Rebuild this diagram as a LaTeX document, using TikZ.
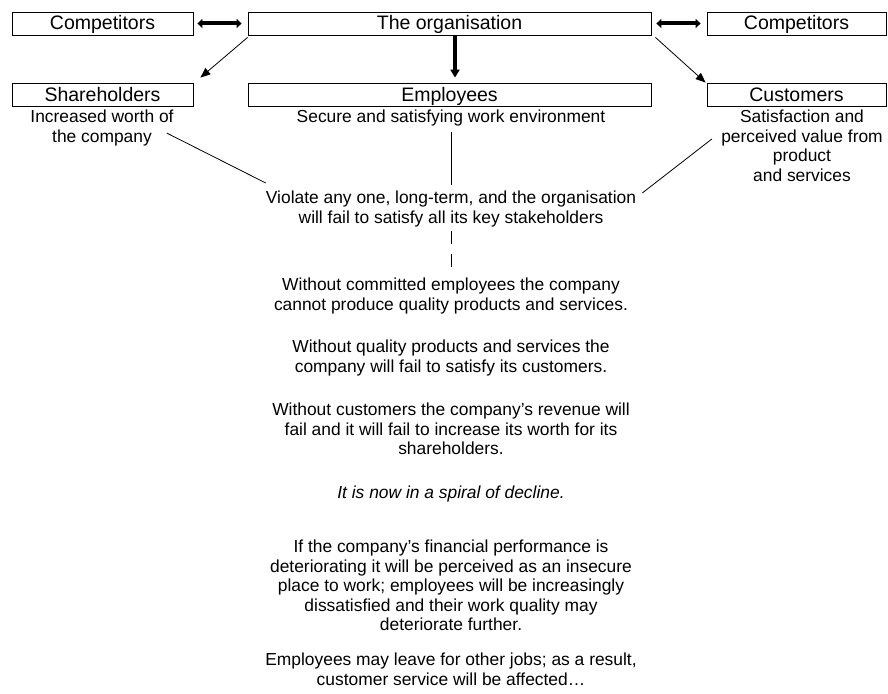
\documentclass[tikz,border=0pt]{standalone}
\usepackage{fontspec}
\setmainfont{Liberation Sans}
\usetikzlibrary{arrows.meta,calc}

\begin{document}
\begin{tikzpicture}[x=1pt,y=-1pt,
  box/.style={draw,line width=0.8pt,inner sep=0pt,minimum height=23pt,
    text height=18pt,text depth=5pt,font=\fontsize{19.5}{22}\selectfont},
  txt/.style={align=center,inner sep=0pt,anchor=north,
    font=\fontsize{17.4}{19.5}\selectfont},
  thinarr/.style={line width=0.8pt,-{Triangle[length=10pt,width=8pt]}},
  thickarr/.style={line width=4.2pt,-{Triangle[length=8pt,width=9pt]}},
  dblarr/.style={arrows={Triangle[length=5pt,width=9pt]-Triangle[length=5pt,width=9pt]},
    line width=4pt}]
\useasboundingbox (0,0) rectangle (888,693);

% stakeholder boxes
\node[box,minimum width=181pt] (compL) at (102.5,23.5) {Competitors};
\node[box,minimum width=403pt] (org) at (449.5,23.5) {The organisation};
\node[box,minimum width=179pt] (compR) at (796.5,23.5) {Competitors};
\node[box,minimum width=181pt] (share) at (102.5,94.5) {Shareholders};
\node[box,minimum width=403pt] (emp) at (449.5,94.5) {Employees};
\node[box,minimum width=179pt] (cust) at (796.5,94.5) {Customers};

% what each one wants
\node[txt] (shtxt) at (102,110) {Increased worth of\\the company};
\node[txt] (emtxt) at (451,110) {Secure and satisfying work environment};
\node[txt] (cutxt) at (802,110) {Satisfaction and\\perceived value from\\product\\and services};

% the chain of decline
\node[txt] (viol) at (451,191) {Violate any one, long-term, and the organisation\\will fail to satisfy all its key stakeholders};
\node[txt] (par1) at (451,278) {Without committed employees the company\\cannot produce quality products and services.};
\node[txt] (par2) at (451,340) {Without quality products and services the\\company will fail to satisfy its customers.};
\node[txt] (par3) at (451,403) {Without customers the company’s revenue will\\fail and it will fail to increase its worth for its\\shareholders.};
\node[txt,font=\fontsize{17.4}{19.5}\selectfont\itshape] (par4) at (451,486) {It is now in a spiral of decline.};
\node[txt] (par5) at (451,540) {If the company’s financial performance is\\deteriorating it will be perceived as an insecure\\place to work; employees will be increasingly\\dissatisfied and their work quality may\\deteriorate further.};
\node[txt] (par6) at (451,653) {Employees may leave for other jobs; as a result,\\customer service will be affected…};

% arrows
\draw[dblarr,shorten <=4pt,shorten >=6pt] (compL.east) -- (org.west);
\draw[dblarr,shorten <=5pt,shorten >=6pt] (org.east) -- (compR.west);
\draw[thickarr,shorten >=5pt] ([xshift=5.5pt]org.south) -- ([xshift=5.5pt]emp.north);
\draw[thinarr] ([yshift=-2pt]org.south west) -- ([xshift=7pt,yshift=5pt]share.north east);
\draw[thinarr] ([xshift=4pt,yshift=-2pt]org.south east) -- ([xshift=-1pt]cust.north west);

% lines to the warning
\draw[line width=0.8pt] ($(shtxt.east)+(-7,5)$) -- ($(viol.north west)+(0,-8)$);
\draw[line width=0.8pt] ([yshift=-5pt]emtxt.south) -- ([yshift=6pt]viol.north);
\draw[line width=0.8pt] ($(viol.north east)+(6,2)$) -- ($(cutxt.west)+(-9,-7)$);
\draw[line width=0.8pt,dash pattern=on 13pt off 10pt] ([yshift=-4pt]viol.south) -- ([yshift=10pt]par1.north);
\end{tikzpicture}
\end{document}
